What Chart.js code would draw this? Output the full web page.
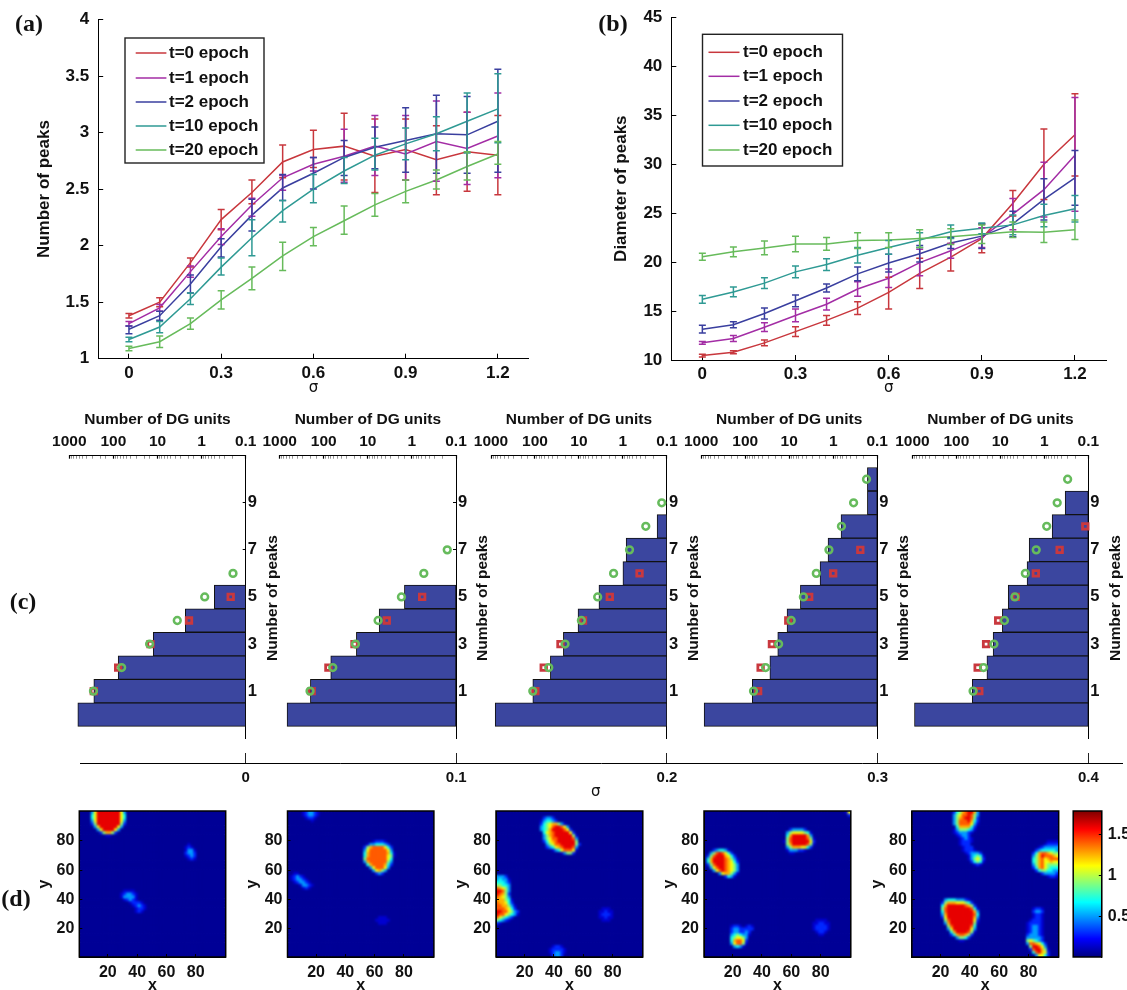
<!DOCTYPE html>
<html><head><meta charset="utf-8">
<style>html,body{margin:0;padding:0;background:#fff;width:1127px;height:990px;overflow:hidden}canvas{position:absolute;display:block}</style>
<script src="https://cdn.jsdelivr.net/npm/chart.js@4"></script>
</head><body>
<script>
// ---------- panels (a), (b) data ----------
const sigma=[0,0.1,0.2,0.3,0.4,0.5,0.6,0.7,0.8,0.9,1.0,1.1,1.2];
const epochLabels=['t=0 epoch','t=1 epoch','t=2 epoch','t=10 epoch','t=20 epoch'];
const sigmaTicks=[0,0.3,0.6,0.9,1.2];
const peakTicksA=[1,1.5,2,2.5,3,3.5,4];
const diamTicksB=[10,15,20,25,30,35,40,45];

const aMean0=[1.38,1.50,1.85,2.23,2.47,2.74,2.85,2.88,2.79,2.85,2.76,2.83,2.80];
const aHi0=[1.40,1.54,1.89,2.32,2.58,2.89,3.02,3.17,3.12,3.12,3.06,3.18,3.15];
const aLo0=[1.36,1.46,1.81,2.14,2.37,2.60,2.69,2.58,2.47,2.58,2.45,2.48,2.45];
const aMean1=[1.31,1.45,1.77,2.08,2.36,2.60,2.72,2.79,2.88,2.81,2.92,2.86,2.97];
const aHi1=[1.33,1.48,1.82,2.15,2.42,2.62,2.78,3.03,3.15,3.15,3.28,3.18,3.35];
const aLo1=[1.29,1.42,1.72,2.01,2.26,2.49,2.66,2.56,2.62,2.58,2.57,2.54,2.60];
const aMean2=[1.26,1.38,1.66,1.99,2.27,2.51,2.64,2.78,2.87,2.93,2.99,2.98,3.10];
const aHi2=[1.29,1.42,1.74,2.06,2.41,2.63,2.78,2.93,3.05,3.22,3.33,3.32,3.56];
const aLo2=[1.22,1.34,1.58,1.90,2.13,2.40,2.50,2.62,2.68,2.65,2.64,2.64,2.65];
const aMean3=[1.17,1.28,1.53,1.81,2.07,2.31,2.50,2.66,2.80,2.90,2.99,3.10,3.21];
const aHi3=[1.19,1.33,1.58,1.89,2.23,2.40,2.63,2.78,2.95,3.04,3.14,3.35,3.52];
const aLo3=[1.15,1.23,1.48,1.74,1.91,2.21,2.38,2.55,2.67,2.76,2.84,2.82,2.91];
const aMean4=[1.09,1.15,1.31,1.52,1.71,1.91,2.08,2.22,2.36,2.48,2.58,2.70,2.81];
const aHi4=[1.11,1.20,1.36,1.60,1.81,2.03,2.16,2.35,2.46,2.58,2.67,2.83,2.92];
const aLo4=[1.07,1.10,1.26,1.44,1.61,1.78,2.00,2.10,2.26,2.38,2.50,2.58,2.72];

const bMean0=[10.45,10.8,11.75,12.9,14.05,15.3,16.9,18.85,20.5,22.4,26.0,30.0,33.0];
const bHi0=[10.6,10.95,12.05,13.4,14.55,15.95,18.45,20.4,21.9,23.9,27.3,33.6,37.2];
const bLo0=[10.3,10.65,11.45,12.4,13.55,14.65,15.2,17.3,19.1,20.95,24.7,26.4,28.8];
const bMean1=[11.75,12.2,13.35,14.55,15.7,17.25,18.35,19.95,21.15,22.5,24.9,27.4,30.9];
const bHi1=[11.9,12.5,13.8,15.2,16.3,18.0,19.3,21.3,21.9,23.5,26.5,30.2,36.8];
const bLo1=[11.6,11.9,12.9,13.9,15.1,16.5,17.4,18.6,20.4,21.5,23.3,24.6,25.2];
const bMean2=[13.15,13.6,14.75,16.05,17.35,18.8,19.9,20.85,21.95,22.65,23.9,26.4,28.6];
const bHi2=[13.55,13.9,15.3,16.65,17.75,19.5,20.8,21.7,22.5,23.9,25.2,28.5,31.4];
const bLo2=[12.75,13.3,14.2,15.45,16.95,18.1,19.0,20.0,21.4,21.4,22.6,24.3,25.8];
const bMean3=[16.2,16.95,17.85,19.0,19.75,20.7,21.5,22.25,23.1,23.45,23.8,24.75,25.45];
const bHi3=[16.6,17.45,18.4,19.6,20.35,21.5,22.2,23.0,23.8,24.0,24.8,25.9,26.8];
const bLo3=[15.8,16.45,17.3,18.4,19.15,19.9,20.8,21.5,22.4,22.9,22.8,23.6,24.1];
const bMean4=[20.55,21.05,21.45,21.85,21.85,22.2,22.25,22.4,22.6,22.85,23.1,23.05,23.3];
const bHi4=[20.9,21.55,22.15,22.65,22.5,23.0,23.0,23.3,23.4,23.8,24.1,24.1,24.3];
const bLo4=[20.2,20.55,20.75,21.05,21.2,21.4,21.5,21.5,21.8,21.9,22.5,22.0,22.3];

// ---------- panel (c) data: DG units per peak count ----------
const dgBars1=[641,278,78,12.5,2.34,0.514];
const dgGreen1=[283,65,15.1,3.56,0.85,0.194];
const dgRed1=[278,78,14.4,1.93,0.219];
const dgBars2=[681,201,69.5,18.2,5.54,1.48];
const dgGreen2=[205,62.5,19.1,5.85,1.73,0.537,0.158];
const dgRed2=[188,78.5,20.1,3.72,0.586];
const dgBars3=[803,112,44.6,22.6,10.5,3.51,1.0,0.845,0.167];
const dgGreen3=[112,48.6,20.7,8.8,3.75,1.63,0.708,0.302,0.131];
const dgRed3=[98,63.2,26.3,8.07,1.99,0.419];
const dgBars4=[858,69,27.5,18.2,11.2,5.56,1.99,1.31,0.664,0.167,0.167];
const dgGreen4=[64.7,34.3,17.4,9.0,4.76,2.42,1.25,0.65,0.344,0.175];
const dgRed4=[50.8,44.6,24.7,10.5,3.51,1.0,0.242];
const dgBars5=[896,43.5,20.2,14.6,9.0,6.62,2.47,2.21,0.664,0.336];
const dgGreen5=[41.7,24.1,14,8.07,4.67,2.7,1.53,0.883,0.51,0.295];
const dgRed5=[30.1,32.8,21.1,11.2,4.47,1.56,0.448,0.117];
const dgTickValues=['1000','100','10','1','0.1'];
const peakTicksC=[1,3,5,7,9];
const sigmaPanelTicks=[0,0.1,0.2,0.3,0.4];

// ---------- panel (d) data: rate-map patches [row from top, first column, cell levels] ----------
const heatLevels=[0.05,0.15,0.3,0.5,0.7,0.9,1.1,1.25,1.4,1.6];
const heat1=[[0,4,"369999999963"],[1,4,"469999999964"],[2,4,"469999999964"],[3,4,"369999999963"],[4,4,"259999999952"],[5,5,"3699999963"],[6,6,"36999963"],[7,7,"257752"],[8,9,"11"],
[11,37,"1"],[12,36,"121"],[13,36,"1331"],[14,36,"2332"],[15,36,"1232"],[16,37,"121"],
[27,15,"1111"],[28,14,"123321"],[29,14,"133331"],[30,15,"12321"],[31,17,"12221"],[32,18,"12321"],[33,19,"1221"],[34,19,"121"]];
const heat2=[[0,5,"123321"],[1,5,"123321"],[2,6,"1221"],[3,8,"1"],
[10,29,"12221"],[11,27,"13344432"],[12,26,"2578888642"],[13,26,"3688888863"],[14,26,"47888888741"],[15,26,"47888888651"],[16,26,"5888888864"],[17,26,"3788888853"],[18,27,"478888742"],[19,28,"3688863"],[20,29,"36753"],[21,30,"232"],
[21,2,"11"],[22,1,"12321"],[23,1,"123321"],[24,2,"123321"],[25,4,"13321"],[26,5,"121"],[36,31,"111"],[37,30,"11111"],[38,31,"111"]];
const heat3=[[2,16,"2332"],[3,15,"134432"],[4,15,"245677531"],[5,15,"3456899863"],[6,15,"34579999862"],[7,16,"46789999962"],[8,16,"357899999951"],[9,16,"356889999983"],[10,16,"246789999995"],[11,17,"356889999952"],[12,17,"23467899983"],[13,19,"134688861"],[14,22,"13552"],
[22,0,"3332"],[23,0,"34331"],[24,0,"44432"],[25,0,"55443"],[26,0,"87653"],[27,0,"99853"],[28,0,"98752"],[29,0,"87653"],[30,0,"777541"],[31,0,"877642"],[32,0,"8877531"],[33,0,"8887642"],[34,0,"99886532"],[35,0,"98865431"],[36,0,"865432"],[37,0,"54321"],[38,0,"21"],
[33,36,"111"],[34,35,"11211"],[35,35,"12221"],[36,35,"11211"],[37,36,"111"],[46,19,"1221"],[47,18,"122221"],[48,18,"123321"],[49,19,"2332"]];
const heat4=[[0,48,"16"],[1,49,"2"],
[6,29,"233332"],[7,28,"356666541"],[8,28,"479999973"],[9,28,"5899999851"],[10,27,"15899999962"],[11,28,"5799999851"],[12,28,"357776642"],[13,28,"1333221"],[14,29,"11"],
[13,3,"234431"],[14,2,"35898642"],[15,1,"2589997642"],[16,1,"47999987531"],[17,1,"47999987642"],[18,1,"25899987653"],[19,2,"3689987653"],[20,3,"368987653"],[21,5,"3677531"],[22,7,"2431"],
[39,9,"1221"],[39,14,"121"],[40,9,"23322"],[40,14,"222"],[41,9,"2332232"],[42,9,"3454331"],[43,9,"456653"],[44,9,"478862"],[45,9,"368851"],[46,10,"3431"],
[37,38,"1111"],[38,37,"112211"],[39,37,"122221"],[40,37,"122221"],[41,38,"1221"],[42,39,"11"]];
const heat5=[[0,14,"245789973"],[1,14,"356889853"],[2,14,"357899852"],[3,14,"358889742"],[4,14,"358888631"],[5,15,"4777742"],[6,14,"13555431"],[7,14,"1233321"],[8,15,"12332"],[9,16,"12321"],[10,16,"12221"],[11,16,"1222"],[12,17,"1222"],[13,17,"12221"],
[14,18,"123332"],[15,19,"134541"],[16,19,"135652"],[17,20,"24541"],[18,21,"121"],
[10,46,"1111"],[11,45,"12222"],[12,43,"1233333"],[13,42,"23444443"],[14,41,"247887655"],[15,41,"357988876"],[16,41,"457867888"],[17,41,"457866766"],[18,41,"357865555"],[19,41,"247865444"],[20,42,"24554433"],[21,44,"233332"],[22,46,"1221"],
[30,11,"344433321"],[31,10,"25777666542"],[32,10,"479999998752"],[33,10,"5899999999841"],[34,10,"4899999999973"],[35,10,"3799999999984"],[36,10,"2699999999973"],[37,11,"589999999962"],[38,11,"379999999951"],[39,12,"5899999984"],[40,12,"3699999963"],[41,13,"479999851"],[42,13,"24788752"],[43,15,"35542"],[44,16,"11"],
[33,41,"1221"],[34,41,"2332"],[35,41,"1221"],[36,41,"1221"],[37,40,"12221"],[38,39,"122221"],[39,39,"123321"],[40,39,"123321"],[41,39,"123321"],[42,39,"233321"],[43,39,"333332"],[44,39,"565432"],[45,39,"3887642"],[46,40,"599863"],[47,40,"2899751"],[48,41,"489762"],[49,42,"36642"]];
const heatTicks=[20,40,60,80];
const colorbarRange=[0.01,1.78];
const colorbarTicks=[0.5,1,1.5];

// ---------- styling ----------
const INK='#111';
const SANS="'Liberation Sans', Arial, sans-serif";
const SERIF="'Liberation Serif', serif";
const seriesColors=['#c8373d','#a32da5','#3a3f9f','#2f9a94','#67bb5b'];
const BAR_BLUE='#3b469f', SQ_RED='#c9383e', CIRC_GREEN='#66bb5c';
const jetStops=[[0,[0,0,127]],[0.125,[0,0,255]],[0.375,[0,255,255]],[0.625,[255,255,0]],[0.875,[255,0,0]],[1,[127,0,0]]];
function jet(v){
  const p=Math.min(1,Math.max(0,(v-colorbarRange[0])/(colorbarRange[1]-colorbarRange[0])));
  for(let i=1;i<jetStops.length;i++){
    if(p<=jetStops[i][0]){
      const a=jetStops[i-1],b=jetStops[i],t=(p-a[0])/(b[0]-a[0]);
      return 'rgb('+[0,1,2].map(k=>Math.round(a[1][k]+(b[1][k]-a[1][k])*t)).join(',')+')';
    }
  }
  return 'rgb(127,0,0)';
}
Chart.defaults.font.family=SANS;
Chart.defaults.font.weight='bold';
Chart.defaults.color=INK;
function noPad(s){s.paddingTop=0;s.paddingBottom=0;s.paddingLeft=0;s.paddingRight=0;}

// ---------- plugins ----------
const extraText={id:'extraText',afterDraw(chart,a,o){
  const c=chart.ctx;
  (o.items||[]).forEach(t=>{c.save();c.translate(t.x,t.y);c.rotate(t.rot||0);c.font=t.font;c.fillStyle=INK;c.textAlign='center';c.textBaseline='middle';c.fillText(t.text,0,0);c.restore();});
}};
const errorBars={id:'errorBars',afterDatasetsDraw(chart,a,o){
  if(!o.hi)return;
  const c=chart.ctx,xs=chart.scales.x,ys=chart.scales.y;
  o.hi.forEach((hi,i)=>{
    c.save();c.strokeStyle=seriesColors[i];c.lineWidth=1.5;c.beginPath();
    sigma.forEach((s,k)=>{
      const x=xs.getPixelForValue(s),yh=ys.getPixelForValue(hi[k]),yl=ys.getPixelForValue(o.lo[i][k]);
      c.moveTo(x,yh);c.lineTo(x,yl);c.moveTo(x-3.5,yh);c.lineTo(x+3.5,yh);c.moveTo(x-3.5,yl);c.lineTo(x+3.5,yl);
    });
    c.stroke();c.restore();
  });
}};
const boxLegend={id:'boxLegend',afterDraw(chart,a,o){
  if(!o.box)return;
  const c=chart.ctx,[x,y,w,h]=o.box;
  c.save();c.fillStyle='#fff';c.fillRect(x,y,w,h);c.strokeStyle='#222';c.lineWidth=1.4;c.strokeRect(x,y,w,h);
  chart.data.datasets.forEach((d,i)=>{
    c.strokeStyle=d.borderColor;c.lineWidth=1.5;c.beginPath();c.moveTo(o.lineX[0],o.rows[i]);c.lineTo(o.lineX[1],o.rows[i]);c.stroke();
    c.fillStyle=INK;c.font="bold 17px "+SANS;c.textAlign='left';c.textBaseline='middle';c.fillText(d.label,o.textX,o.rows[i]);
  });
  c.restore();
}};
const smoothCells={id:'smoothCells',afterDatasetsDraw(chart,a,o){
  if(!o.blur)return;
  const c=chart.ctx,A=chart.chartArea,l=Math.round(A.left),t=Math.round(A.top),w=Math.round(A.width),h=Math.round(A.height);
  c.save();c.beginPath();c.rect(l,t,w,h);c.clip();c.filter='blur('+o.blur+'px)';c.drawImage(chart.canvas,l,t,w,h,l,t,w,h);c.restore();
}};
const frame={id:'frame',afterDraw(chart,a,o){
  if(!o.on)return;
  const c=chart.ctx,A=chart.chartArea;
  c.save();c.strokeStyle='#000';c.lineWidth=o.width||1.5;c.strokeRect(A.left,A.top,A.width,A.height);c.restore();
}};
Chart.register(extraText,errorBars,boxLegend,smoothCells,frame);

function makeCanvas(x,y,w,h){
  const c=document.createElement('canvas');c.width=w;c.height=h;c.style.left=x+'px';c.style.top=y+'px';
  c.style.width=w+'px';c.style.height=h+'px';document.body.appendChild(c);return c;
}
const base={responsive:false,animation:false,devicePixelRatio:1,events:[]};

// ---------- (a), (b) ----------
function linePanel(cfg){
  const c=makeCanvas(cfg.cx,0,cfg.w,400);
  new Chart(c,{type:'line',
    data:{datasets:cfg.means.map((m,i)=>({label:epochLabels[i],data:m.map((v,k)=>({x:sigma[k],y:v})),borderColor:seriesColors[i],borderWidth:1.5,pointRadius:0,tension:0,fill:false,order:5-i}))},
    options:{...base,
      layout:{padding:{top:cfg.top,right:cfg.w-cfg.right,left:0,bottom:0}},
      plugins:{legend:{display:false},tooltip:{enabled:false},
        errorBars:{hi:cfg.hi,lo:cfg.lo},
        boxLegend:cfg.legend,
        extraText:{items:[cfg.tag]}},
      scales:{
        x:{type:'linear',min:-0.1,max:1.3,
          afterFit:s=>{s.height=400-cfg.bottom;noPad(s);},
          afterBuildTicks:s=>{s.ticks=sigmaTicks.map(v=>({value:v}));},
          grid:{drawOnChartArea:false,tickLength:-5,color:'#000'},border:{color:'#000',width:1},
          ticks:{font:{size:17},padding:9,maxRotation:0,autoSkip:false,callback:v=>v===0?'0':v.toFixed(1)},
          title:{display:true,text:'σ',font:{size:15,weight:'normal',family:"'DejaVu Sans'"},padding:{top:0,bottom:2.7}}},
        y:{type:'linear',min:cfg.yTicks[0],max:cfg.yTicks[cfg.yTicks.length-1],
          afterFit:s=>{s.width=cfg.left;noPad(s);},
          afterBuildTicks:s=>{s.ticks=cfg.yTicks.map(v=>({value:v}));},
          grid:{drawOnChartArea:false,tickLength:-5,color:'#000'},border:{color:'#000',width:1},
          ticks:{font:{size:17},padding:14,autoSkip:false,callback:v=>String(v)},
          title:{display:true,text:cfg.yTitle,font:{size:17},padding:{top:cfg.titlePad,bottom:0}}}
      }}});
}
linePanel({cx:0,w:560,left:98.2,right:528.6,top:19.5,bottom:358.7,yTicks:peakTicksA,yTitle:'Number of peaks',titlePad:33.8,
  means:[aMean0,aMean1,aMean2,aMean3,aMean4],hi:[aHi0,aHi1,aHi2,aHi3,aHi4],lo:[aLo0,aLo1,aLo2,aLo3,aLo4],
  legend:{box:[125,38,139,125],lineX:[135.7,166.4],textX:169,rows:[53,78,102,126,150]},
  tag:{text:'(a)',x:29,y:25,font:"bold 24px "+SERIF}});
linePanel({cx:570,w:557,left:101.3,right:536,top:17.3,bottom:360,yTicks:diamTicksB,yTitle:'Diameter of peaks',titlePad:41.3,
  means:[bMean0,bMean1,bMean2,bMean3,bMean4],hi:[bHi0,bHi1,bHi2,bHi3,bHi4],lo:[bLo0,bLo1,bLo2,bLo3,bLo4],
  legend:{box:[132.5,34.3,140,131.7],lineX:[138.5,169.5],textX:173,rows:[52.3,76.3,101,125.3,150]},
  tag:{text:'(b)',x:43,y:25,font:"bold 24px "+SERIF}});

// ---------- (c) ----------
const PANEL_TOP=455.7,PANEL_BOTTOM=739.7,CTOP=405,CH=340;
function toPoints(list){return list.map((v,i)=>({x:v,y:i+1}));}
function isDecade(v){if(!v)return false;const l=Math.log10(v);return Math.abs(l-Math.round(l))<1e-6;}
function histPanel(plotLeft,plotRight,bars,green,red,extra){
  const cx=Math.round(plotLeft-69.3),W=Math.round(plotRight-cx+50);
  const titleItem={text:'Number of peaks',x:plotRight-cx+27,y:193,rot:-Math.PI/2,font:"bold 15.5px "+SANS};
  new Chart(makeCanvas(cx,CTOP,W,CH),{type:'bar',
    data:{datasets:[
      {type:'scatter',label:'green',data:toPoints(green),order:0,pointStyle:'circle',pointRadius:3.4,pointBorderWidth:2.5,pointBorderColor:CIRC_GREEN,pointBackgroundColor:'transparent',clip:false},
      {type:'scatter',label:'red',data:toPoints(red),order:1,pointStyle:'rect',pointRadius:3.9,pointBorderWidth:2.8,pointBorderColor:SQ_RED,pointBackgroundColor:'transparent',clip:false},
      {type:'bar',label:'bars',data:bars.map((v,i)=>({x:[0.1,v],y:i})),order:2,backgroundColor:BAR_BLUE,borderColor:'#111',borderWidth:1,borderSkipped:false,barPercentage:1,categoryPercentage:1}
    ]},
    options:{...base,indexAxis:'y',
      layout:{padding:{left:plotLeft-cx,bottom:CH-(PANEL_BOTTOM-CTOP),top:0,right:0}},
      plugins:{legend:{display:false},tooltip:{enabled:false},
        extraText:{items:[titleItem].concat(extra||[])}},
      scales:{
        x:{type:'logarithmic',position:'top',reverse:true,min:0.1,max:1000,offset:false,
          afterFit:s=>{s.height=PANEL_TOP-CTOP;noPad(s);},
          grid:{drawOnChartArea:false,offset:false,tickLength:-3,tickColor:ctx=>isDecade(ctx.tick&&ctx.tick.value)?'#000':'#666',tickWidth:ctx=>isDecade(ctx.tick&&ctx.tick.value)?1.2:0.7},
          border:{color:'#000',width:1},
          ticks:{font:{size:15.5},padding:8,autoSkip:false,maxRotation:0,minRotation:0,callback:v=>{if(!isDecade(v))return '';const i=Math.round(3-Math.log10(v));return dgTickValues[i];}},
          title:{display:true,text:'Number of DG units',font:{size:15.5},padding:{top:5,bottom:0}}},
        y:{type:'linear',position:'right',min:-1,max:11,offset:false,
          afterFit:s=>{s.width=W-(plotRight-cx);noPad(s);},
          afterBuildTicks:s=>{s.ticks=peakTicksC.map(v=>({value:v}));},
          grid:{drawOnChartArea:false,offset:false,tickLength:-3,color:'#000'},border:{color:'#000',width:1},
          ticks:{font:{size:16.5},padding:5,autoSkip:false,callback:v=>String(v)}}
      }}});
}
histPanel(69.3,245.7,dgBars1,dgGreen1,dgRed1,[{text:'(c)',x:23,y:198,font:"bold 24px "+SERIF}]);
histPanel(279.7,456,dgBars2,dgGreen2,dgRed2);
histPanel(491,666.9,dgBars3,dgGreen3,dgRed3);
histPanel(701.2,877.2,dgBars4,dgGreen4,dgRed4);
histPanel(912.4,1088.3,dgBars5,dgGreen5,dgRed5);

// shared σ axis below (c)
new Chart(makeCanvas(0,745,1127,55),{type:'scatter',data:{datasets:[{data:[]}]},
  options:{...base,
    layout:{padding:{left:80,right:4.3,top:8,bottom:0}},
    plugins:{legend:{display:false},tooltip:{enabled:false},
      extraText:{items:[{text:'σ',x:595.7,y:46.7,font:"normal 15px 'DejaVu Sans'"}]}},
    scales:{
      x:{type:'linear',min:-0.0786,max:0.4163,
        afterFit:s=>{s.height=55-18.7;noPad(s);},
        afterBuildTicks:s=>{s.ticks=sigmaPanelTicks.map(v=>({value:v}));},
        grid:{drawTicks:false,color:'#222'},border:{color:'#000',width:1},
        ticks:{font:{size:15},padding:5,autoSkip:false,maxRotation:0,callback:v=>v===0?'0':v.toFixed(1)}},
      y:{display:false,min:0,max:1}
    }}});

// ---------- (d) ----------
const D_TOP=811,D_BOTTOM=957,D_CTOP=790,D_CH=210,GRID_N=50,CELL=2;
function heatCells(patches){
  const grid=Array.from({length:GRID_N},()=>new Array(GRID_N).fill(0));
  patches.forEach(([r,c,s])=>{[...s].forEach((ch,i)=>{grid[r][c+i]=+ch;});});
  const cells=[];
  grid.forEach((row,r)=>row.forEach((d,c)=>cells.push({x:0.5+(c+0.5)*CELL,y:100.5-(r+0.5)*CELL,v:heatLevels[d]})));
  return cells;
}
function heatPanel(plotLeft,plotRight,patches,extra){
  const cx=Math.round(plotLeft-79.3),W=Math.round(plotRight-cx+8);
  new Chart(makeCanvas(cx,D_CTOP,W,D_CH),{type:'scatter',
    data:{datasets:[{data:heatCells(patches),pointStyle:'rect',pointBorderWidth:0,
      pointRadius:ctx=>{const s=ctx.chart.scales.x;return Math.abs(s.getPixelForValue(CELL)-s.getPixelForValue(0))*Math.SQRT1_2+0.3;},
      pointBackgroundColor:ctx=>jet(ctx.raw?ctx.raw.v:0)}]},
    options:{...base,
      layout:{padding:{top:D_TOP-D_CTOP,right:W-(plotRight-cx),left:0,bottom:0}},
      plugins:{legend:{display:false},tooltip:{enabled:false},smoothCells:{blur:1.1},frame:{on:true},
        extraText:{items:extra||[]}},
      scales:{
        x:{type:'linear',min:0.5,max:100.5,
          afterFit:s=>{s.height=D_CH-(D_BOTTOM-D_CTOP);noPad(s);},
          afterBuildTicks:s=>{s.ticks=heatTicks.map(v=>({value:v}));},
          grid:{drawOnChartArea:false,tickLength:-3,color:'#000',z:1},border:{color:'#000',z:1},
          ticks:{font:{size:16},padding:9,autoSkip:false,maxRotation:0,z:1,callback:v=>String(v)},
          title:{display:true,text:'x',font:{size:16},padding:{top:0,bottom:4.7}}},
        y:{type:'linear',min:0.5,max:100.5,
          afterFit:s=>{s.width=plotLeft-cx;noPad(s);},
          afterBuildTicks:s=>{s.ticks=heatTicks.map(v=>({value:v}));},
          grid:{drawOnChartArea:false,tickLength:-3,color:'#000',z:1},border:{color:'#000',z:1},
          ticks:{font:{size:16},padding:8,autoSkip:false,z:1,callback:v=>String(v)},
          title:{display:true,text:'y',font:{size:16},padding:{top:plotLeft-cx-34.7-9.6,bottom:0}}}
      }}});
}
heatPanel(79.3,225.7,heat1,[{text:'(d)',x:16,y:110,font:"bold 24px "+SERIF}]);
heatPanel(287.5,433.9,heat2);
heatPanel(496,642.8,heat3);
heatPanel(704,850.8,heat4);
heatPanel(911.9,1058.7,heat5);

// colour bar
new Chart(makeCanvas(1060,D_CTOP,67,D_CH),{type:'bar',
  data:{labels:[''],datasets:[{data:[colorbarRange],barPercentage:1,categoryPercentage:1,borderWidth:0,
    backgroundColor:ctx=>{
      const A=ctx.chart.chartArea;if(!A)return '#000';
      const g=ctx.chart.ctx.createLinearGradient(0,A.bottom,0,A.top);
      jetStops.forEach(s=>g.addColorStop(s[0],'rgb('+s[1].join(',')+')'));return g;
    }}]},
  options:{...base,
    layout:{padding:{left:13.2,top:D_TOP-D_CTOP,bottom:D_CH-(D_BOTTOM-D_CTOP),right:0}},
    plugins:{legend:{display:false},tooltip:{enabled:false},frame:{on:true}},
    scales:{
      x:{display:false},
      y:{type:'linear',position:'right',min:colorbarRange[0],max:colorbarRange[1],
        afterFit:s=>{s.width=67-41.8;noPad(s);},
        afterBuildTicks:s=>{s.ticks=colorbarTicks.map(v=>({value:v}));},
        grid:{drawOnChartArea:false,tickLength:-3,color:'#000',z:1},border:{color:'#000',z:1},
        ticks:{font:{size:16},padding:9,autoSkip:false,z:1,callback:v=>String(v)}}
    }}});
</script>
</body></html>
